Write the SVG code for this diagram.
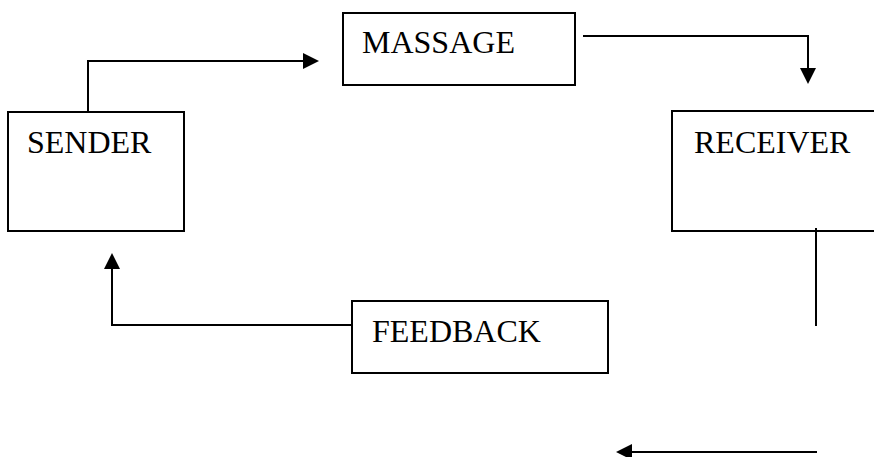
<svg xmlns="http://www.w3.org/2000/svg" width="874" height="457" viewBox="0 0 874 457">
<style>
.box{fill:#fff;stroke:#000;stroke-width:2}
.lbl{font-family:"Liberation Serif","Times New Roman",serif;font-size:32px;fill:#000}
.ln{fill:none;stroke:#000;stroke-width:2}
.head{fill:#000}
</style>
<rect width="874" height="457" fill="#fff"/>
<g id="sender"><rect class="box" x="8" y="112" width="176" height="119"/><text class="lbl" x="27" y="153">SENDER</text></g>
<g id="massage"><rect class="box" x="343" y="13" width="232" height="72"/><text class="lbl" x="362" y="53">MASSAGE</text></g>
<g id="receiver"><rect class="box" x="672" y="111" width="210" height="120"/><text class="lbl" x="694" y="153">RECEIVER</text></g>
<g id="feedback"><rect class="box" x="352" y="301" width="256" height="72"/><text class="lbl" x="372" y="342">FEEDBACK</text></g>
<g id="connectors">
<path class="ln" d="M88,111 V61 H304"/>
<path class="head" d="M303,53 L319,61 L303,69 Z"/>
<path class="ln" d="M583,36 H808 V69"/>
<path class="head" d="M800,68 L808,84 L816,68 Z"/>
<path class="ln" d="M816,228 V326"/>
<path class="ln" d="M817,452 H630"/>
<path class="head" d="M632,444 L616,452 L632,460 Z"/>
<path class="ln" d="M352,325 H112 V268"/>
<path class="head" d="M104,269 L112,253 L120,269 Z"/>
</g>
</svg>
